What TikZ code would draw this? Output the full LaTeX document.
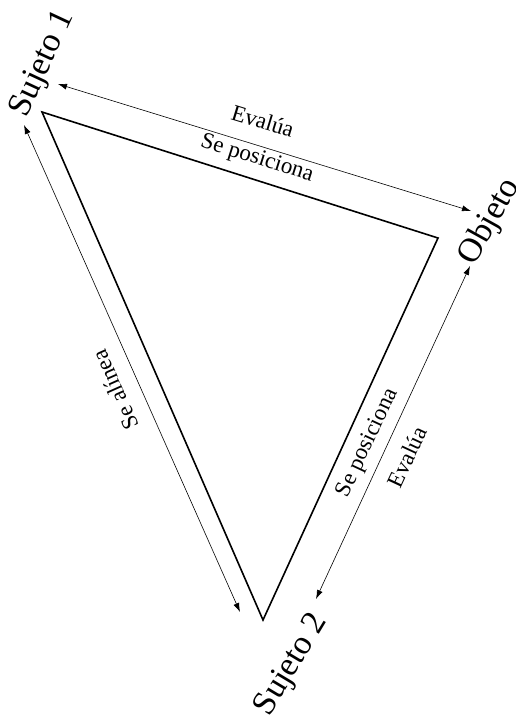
\documentclass[tikz,border=0pt]{standalone}
\usepackage{fontspec}
\setmainfont{Liberation Serif}
\usetikzlibrary{arrows.meta}
\begin{document}
\begin{tikzpicture}[x=1pt,y=-1pt,
  edge/.style={line width=1.6pt,line join=miter},
  link/.style={line width=0.6pt,{Latex[length=9pt,width=6pt]}-{Latex[length=9pt,width=6pt]}},
  bigtext/.style={inner sep=0pt,font=\fontsize{34}{40}\selectfont},
  smalltext/.style={inner sep=0pt,font=\fontsize{23}{27}\selectfont}]
\useasboundingbox (0,0) rectangle (515,718);
% triangle corners
\coordinate (v1) at (42,112);
\coordinate (v2) at (438,238);
\coordinate (v3) at (263,620);
% arrow end points
\coordinate (a1) at (58,84);
\coordinate (a2) at (471,211);
\coordinate (b1) at (24,125);
\coordinate (b2) at (240,612);
\coordinate (c1) at (470,266);
\coordinate (c2) at (316,599);
% triangle
\draw[edge] (v1) -- (v2) -- (v3) -- cycle;
% relations
\draw[link] (a1) -- (a2);
\draw[link] (b1) -- (b2);
\draw[link] (c1) -- (c2);
% corner labels
\node[bigtext,rotate=65] (s1) at (43,64) {Sujeto 1};
\node[bigtext,rotate=61] (ob) at (490,222) {Objeto};
\node[bigtext,rotate=59] (s2) at (292,665) {Sujeto 2};
% relation labels
\node[smalltext,rotate=-17] (ev1) at (263,121) {Evalúa};
\node[smalltext,rotate=-17.5] (sp1) at (257,159) {Se posiciona};
\node[smalltext,rotate=114] (al) at (115,390) {Se alínea};
\node[smalltext,rotate=65] (sp2) at (368,443) {Se posiciona};
\node[smalltext,rotate=65] (ev2) at (407,457) {Evalúa};
\end{tikzpicture}
\end{document}
